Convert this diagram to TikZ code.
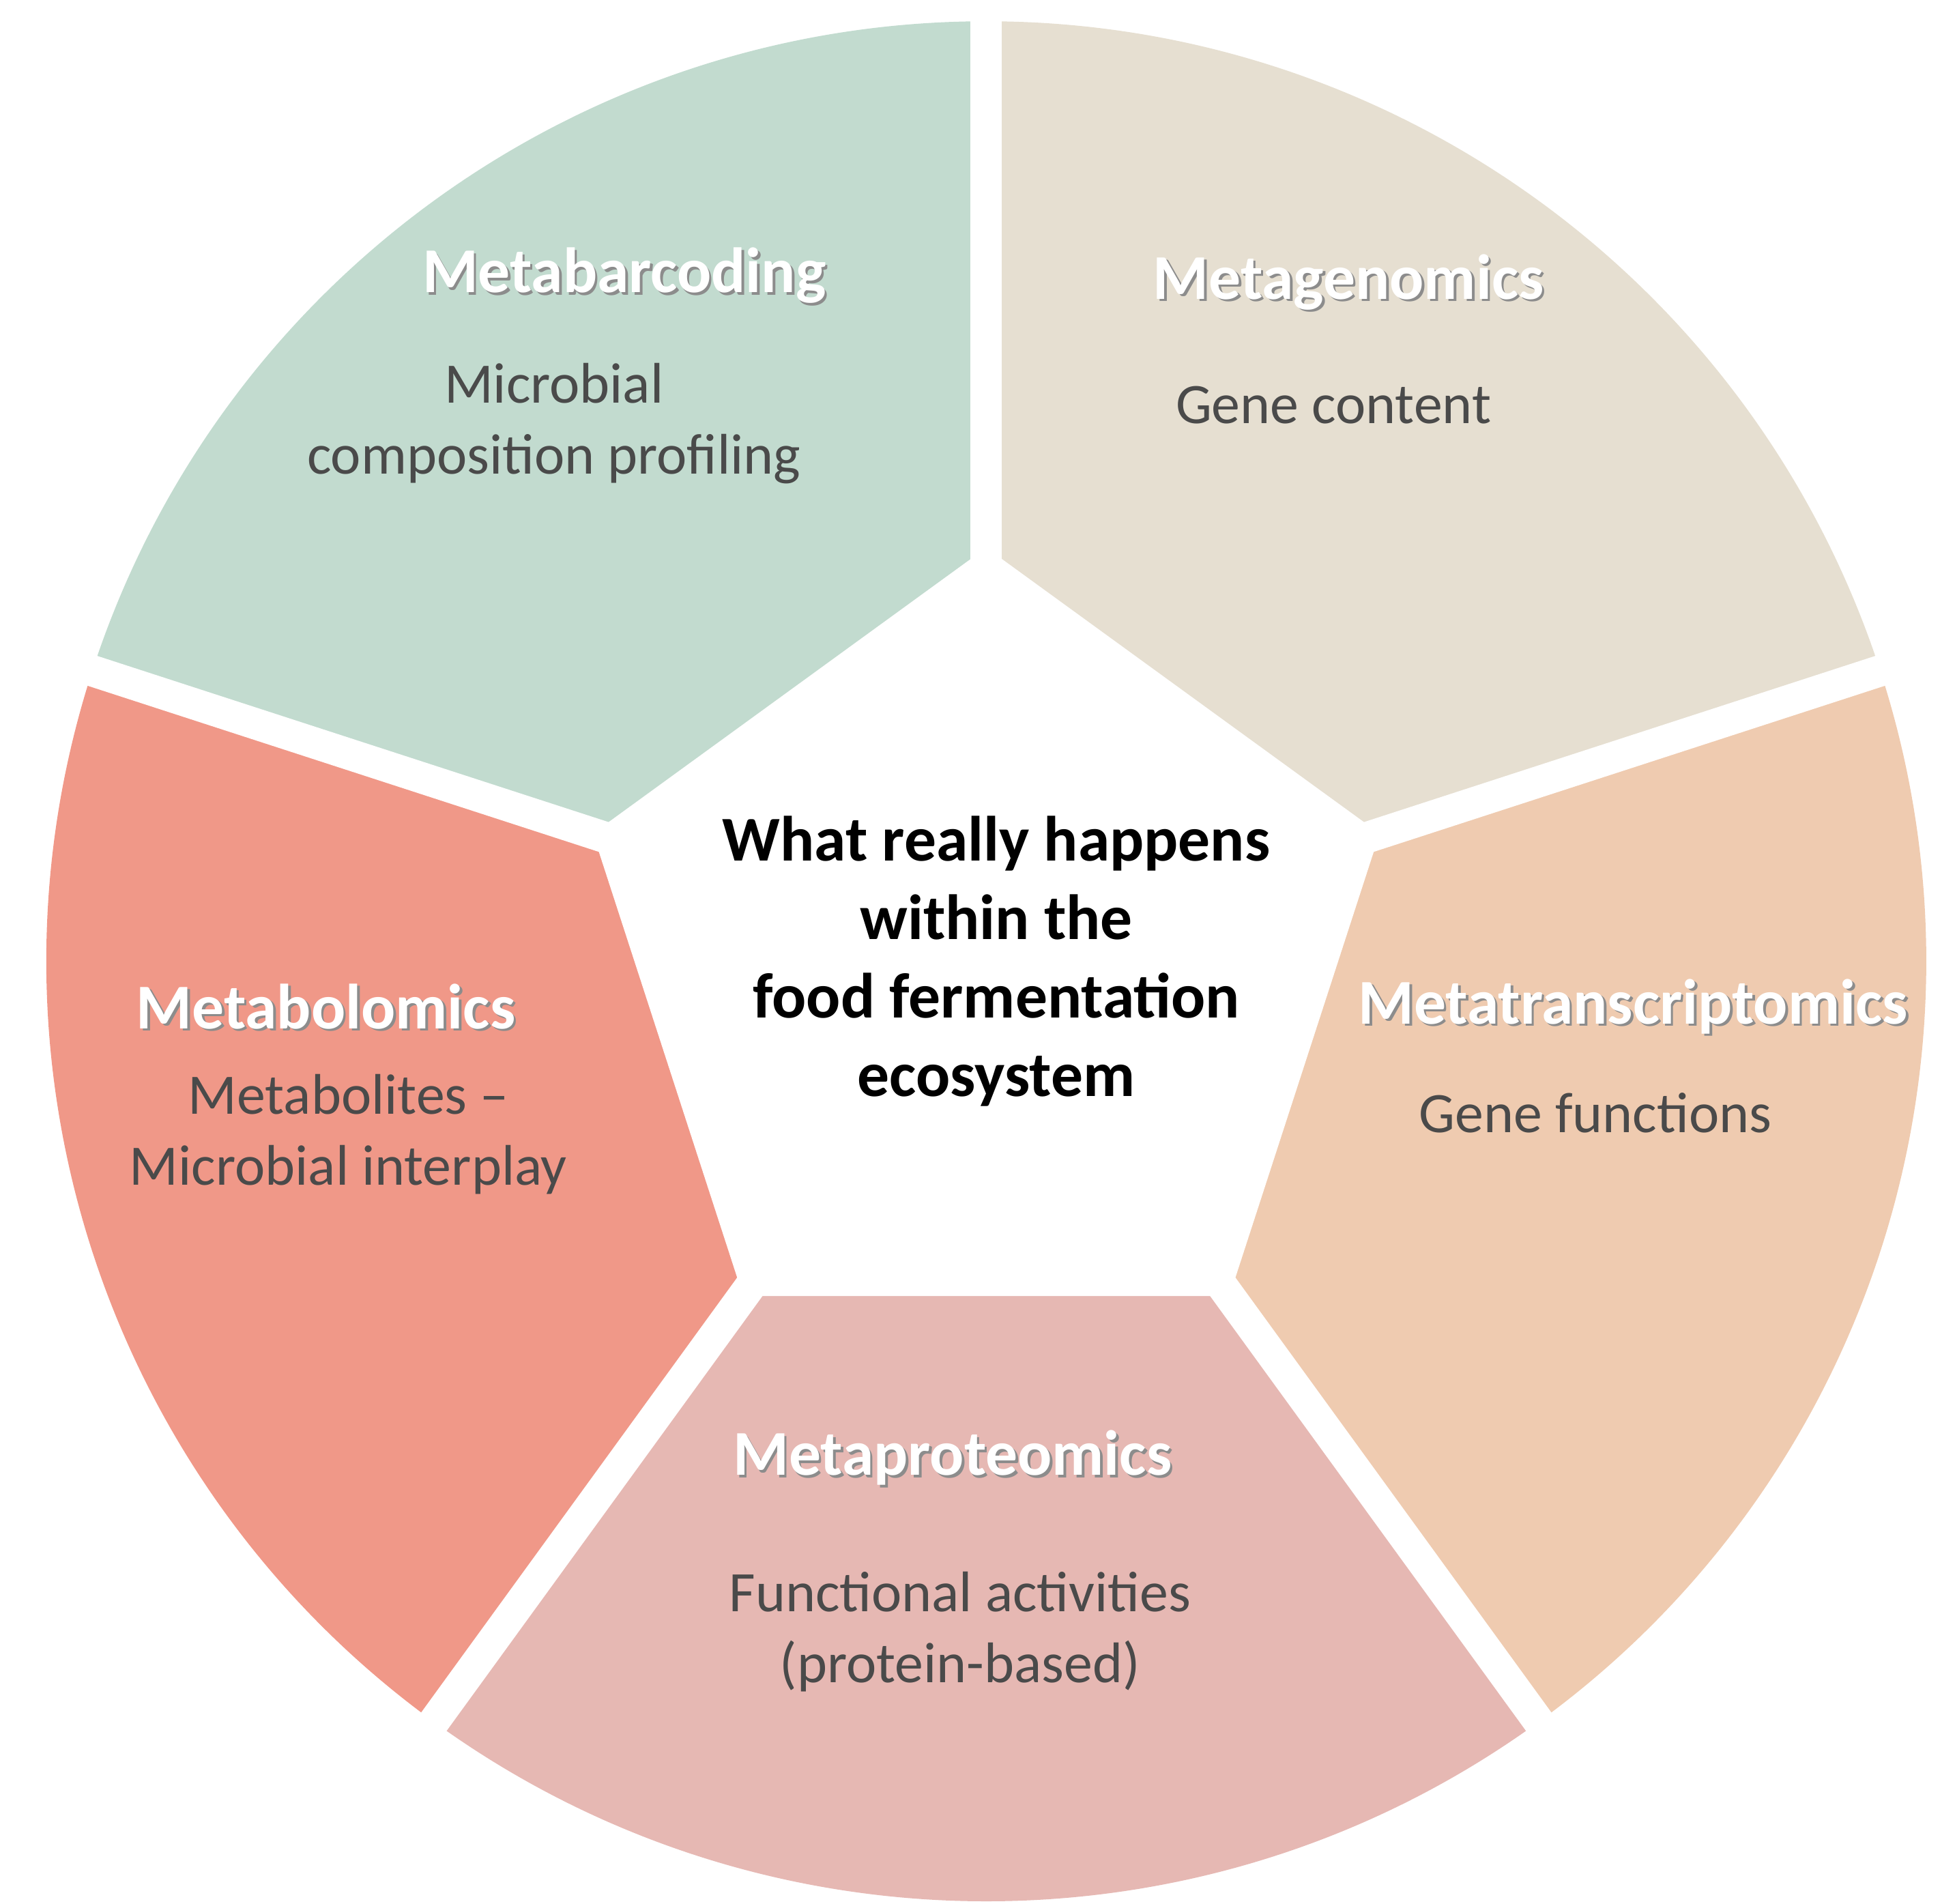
\documentclass[tikz,border=0pt]{standalone}
\usepackage{fontspec}
\setmainfont{Carlito}
\usetikzlibrary{calc}
\definecolor{barcode}{HTML}{C2DBCF}
\definecolor{genome}{HTML}{E6DFD1}
\definecolor{transcr}{HTML}{EFCBB0}
\definecolor{proteo}{HTML}{E6B8B3}
\definecolor{metabo}{HTML}{F09888}
\definecolor{subgray}{HTML}{4A4A4A}
\tikzset{
  title/.style={font=\fontsize{14.5}{17}\selectfont\bfseries, text=white},
  shade/.style={font=\fontsize{14.5}{17}\selectfont\bfseries, text=black!45},
  sub/.style={font=\fontsize{13}{16}\selectfont, text=subgray, align=center},
}
\begin{document}
\begin{tikzpicture}
      \useasboundingbox (0,0) rectangle (15.6,15.19);
      \coordinate (c) at (7.87,7.52);
      % sectors
      \foreach \a/\b/\col in {18/90/genome,-54/18/transcr,-126/-54/proteo,162/234/metabo,90/162/barcode}
        \fill[\col] (c) -- ++(\a:7.5) arc[start angle=\a,end angle=\b,radius=7.5] -- cycle;
      % gaps and centre
      \foreach \a in {90,18,-54,-126,162}
        \draw[white,line width=0.25cm] (c) -- ++(\a:7.8);
      \fill[white] (c) ++(90:3.3) -- ++(-36:3.88) -- ++(-108:3.88) -- ++(180:3.88) -- ++(108:3.88) -- cycle;
      % texts
      \node[shade] at (5.0,12.97) {Metabarcoding};
      \node[title] (barc) at (4.98,12.99) {Metabarcoding};
      \node[sub] (barcs) at (4.42,11.81) {Microbial\\composition profiling};
      \node[shade] at (10.78,12.92) {Metagenomics};
      \node[title] (gen) at (10.76,12.94) {Metagenomics};
      \node[sub] (gens) at (10.64,11.96) {Gene content};
      \node[shade] at (13.05,7.14) {Metatranscriptomics};
      \node[title] (tra) at (13.03,7.16) {Metatranscriptomics};
      \node[sub] (tras) at (12.73,6.31) {Gene functions};
      \node[shade] at (7.62,3.54) {Metaproteomics};
      \node[title] (pro) at (7.60,3.56) {Metaproteomics};
      \node[sub] (pros) at (7.66,2.17) {Functional activities\\(protein-based)};
      \node[shade] at (2.62,7.14) {Metabolomics};
      \node[title] (met) at (2.60,7.16) {Metabolomics};
      \node[sub] (mets) at (2.78,6.14) {Metabolites --\\Microbial interplay};
      \node[font=\fontsize{14.5}{17.8}\selectfont\bfseries, align=center] (eco) at (7.95,7.52)
        {What really happens\\within the\\food fermentation\\ecosystem};
\end{tikzpicture}
\end{document}
